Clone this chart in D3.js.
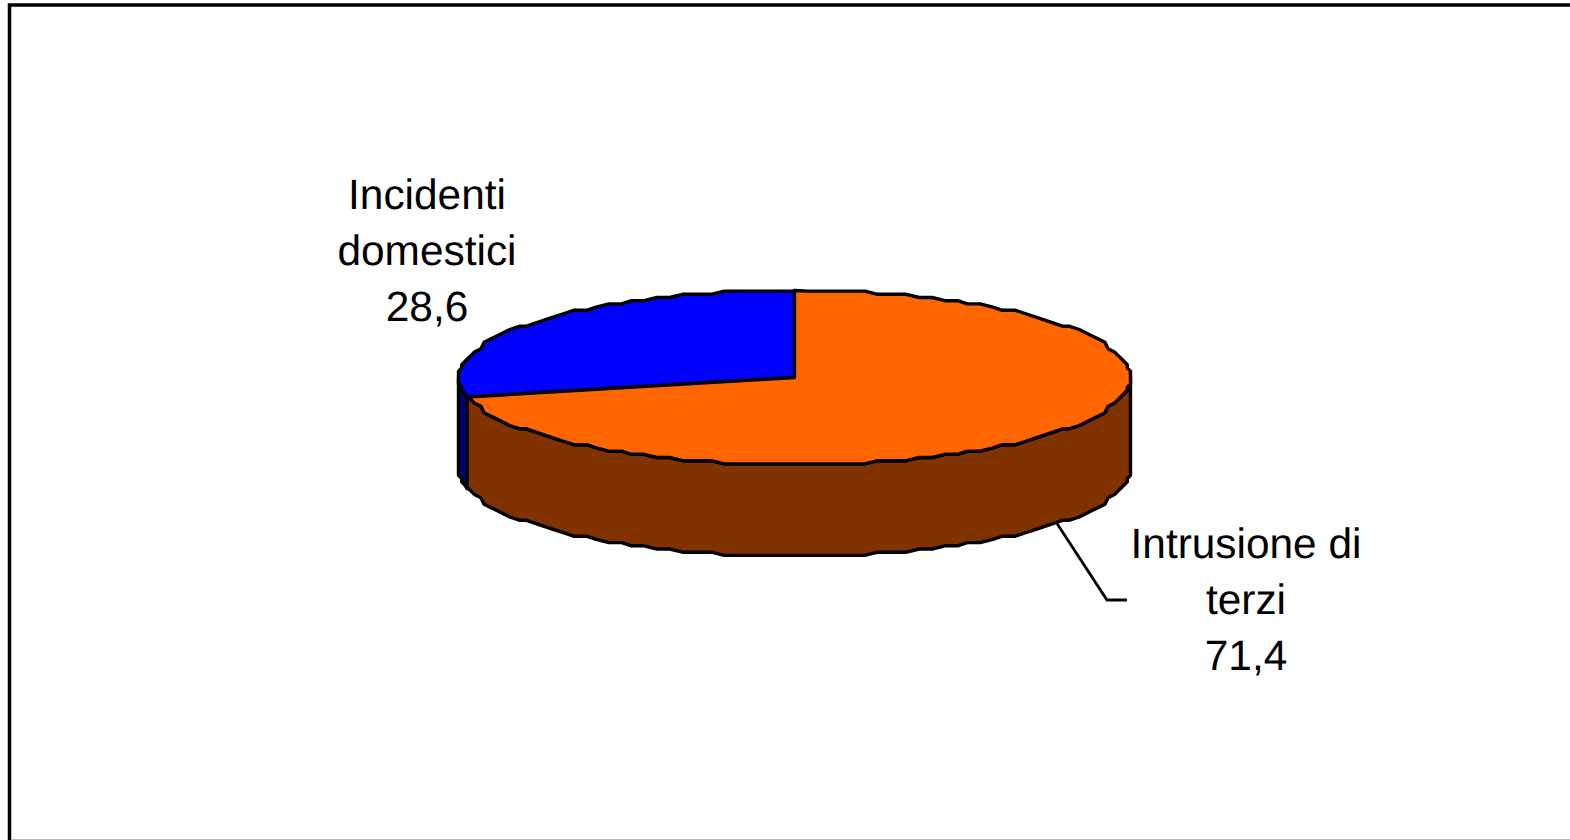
<!DOCTYPE html>
<html><head><meta charset="utf-8">
<script src="https://cdnjs.cloudflare.com/ajax/libs/d3/7.8.5/d3.min.js"></script>
<style>html,body{margin:0;padding:0;background:#fff;overflow:hidden}svg{display:block}text{font-family:"Liberation Sans",Arial,sans-serif;font-size:42.4px;fill:#000;text-rendering:geometricPrecision}</style>
</head><body><svg id="c" width="1570" height="840"></svg>
<script>
const categories=["Intrusione di terzi","Incidenti domestici"];
const values=[71.4,28.6];
const valueLabels=["71,4","28,6"];
const labelLines=[["Intrusione di","terzi","71,4"],["Incidenti","domestici","28,6"]];
const topColors=["#ff6600","#0000ff"];
const sideColors=["#803300","#000080"];

const W=1570,H=840,cx=794.5,cy=377.5,rx=336,ry=87,depth=91.5,grid=3.2,step=Math.PI/75;
const svg=d3.select("#c");
svg.append("rect").attr("x",9.5).attr("y",5).attr("width",W+20).attr("height",H+20).attr("fill","#fff").attr("stroke","#000").attr("stroke-width",3.5);
svg.append("line").attr("x1",11).attr("x2",W).attr("y1",839.5).attr("y2",839.5).attr("stroke","#bbb").attr("stroke-width",1);

const arcs=d3.pie().sort(null).startAngle(0).endAngle(2*Math.PI)(values);
const snap=v=>Math.round(v/grid)*grid;
// the reference's rim is a coarse, stair-stepped polygon; samples sit on one
// shared angle grid so the top faces and the sides follow the same outline
function rim(a0,a1,dy){
  const pts=[[cx+rx*Math.sin(a0),cy-ry*Math.cos(a0)+dy]];
  for(let k=Math.floor(a0/step)+1;k*step<a1;k++){
    const a=k*step;
    pts.push([cx+snap(rx*Math.sin(a)),cy+snap(-ry*Math.cos(a))+dy]);
  }
  pts.push([cx+rx*Math.sin(a1),cy-ry*Math.cos(a1)+dy]);
  return pts;
}
const line=d3.line();
const side=(a0,a1)=>line(rim(a0,a1,0).concat(rim(a0,a1,depth).reverse()))+"Z";
const sty=s=>s.attr("stroke","#000").attr("stroke-width",3.4).attr("stroke-linejoin","round");

// sides: only the part of each slice facing the viewer (90deg to 270deg)
const front=[Math.PI/2,3*Math.PI/2];
[1,0].forEach(i=>{
  const a0=Math.max(arcs[i].startAngle,front[0]),a1=Math.min(arcs[i].endAngle,front[1]);
  if(a1>a0) svg.append("path").attr("d",side(a0,a1)).attr("fill",sideColors[i]).call(sty);
});
// tops
[1,0].forEach(i=>{
  const p=[[cx,cy]].concat(rim(arcs[i].startAngle,arcs[i].endAngle,0));
  svg.append("path").attr("d",line(p)+"Z").attr("fill",topColors[i]).call(sty);
});
// leader
const leader=[[1056,522],[1107,600],[1127,600]];
svg.append("path").attr("d",line(leader)).attr("fill","none").attr("stroke","#000").attr("stroke-width",2.8);
// labels
const labelX=d3.scalePoint().domain(categories).range([1246,427]);
const labelY=d3.scalePoint().domain(categories).range([558,209]);
categories.forEach((c,i)=>{
  labelLines[i].forEach((t,j)=>{
    svg.append("text").attr("x",labelX(c)).attr("y",labelY(c)+j*56).attr("text-anchor","middle").text(t);
  });
});
</script></body></html>
